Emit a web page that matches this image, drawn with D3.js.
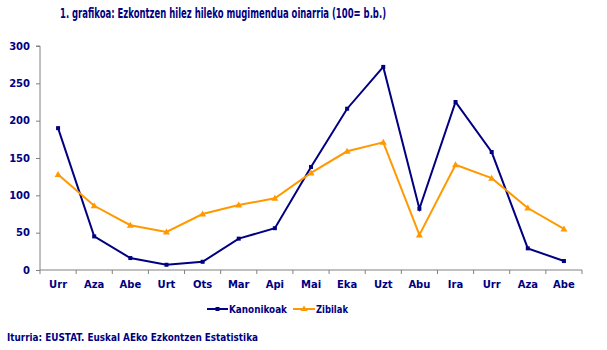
<!DOCTYPE html>
<html><head><meta charset="utf-8">
<script src="https://cdn.jsdelivr.net/npm/d3@7"></script>
<style>body{margin:0;background:#fff}svg{display:block}text{font-family:Tahoma,"DejaVu Sans",Verdana,sans-serif;font-weight:bold;fill:#000080}</style>
</head><body>
<svg id="c" width="607" height="350"></svg>
<script>
const categories = ["Urr","Aza","Abe","Urt","Ots","Mar","Api","Mai","Eka","Uzt","Abu","Ira","Urr","Aza","Abe"];
const kanonikoak = [190,45,16,7,11,42,56,138,216,272,82,225,158,29,12];
const zibilak = [128,86,60,51,75,87,96,130,159,171,47,141,123,83,55];
const yTicks = [0,50,100,150,200,250,300];
const seriesNames = ["Kanonikoak","Zibilak"];
const title = "1. grafikoa: Ezkontzen hilez hileko mugimendua oinarria (100= b.b.)";
const source = "Iturria: EUSTAT. Euskal AEko Ezkontzen Estatistika";

const svg = d3.select("#c");
const L = 40, R = 582, T = 46, B = 270;
const idx = categories.map((d,i)=>i);
const x = d3.scaleBand().domain(idx).range([L,R]);
const y = d3.scaleLinear().domain([0,300]).range([B,T]);
const cx = i => x(i) + x.bandwidth()/2;

svg.append("text").attr("x",60).attr("y",18).attr("font-size",13.5)
  .attr("textLength",326).attr("lengthAdjust","spacingAndGlyphs").text(title);

// y axis
const ya = svg.append("g").attr("transform",`translate(${L},0)`)
  .call(d3.axisLeft(y).tickValues(yTicks).tickSize(4).tickPadding(6));
ya.select(".domain").attr("stroke","#808080").attr("d",`M-4,${T}H0V${B}`);
ya.selectAll(".tick line").attr("stroke","#808080");
ya.selectAll("text").attr("font-size",10).attr("font-family",null).style("fill","#000080");

// x axis
const xa = svg.append("g").attr("transform",`translate(0,${B})`)
  .call(d3.axisBottom(x).tickFormat(i=>categories[i]).tickSize(0).tickPadding(11));
xa.select(".domain").attr("stroke","#808080").attr("d",`M${L},0H${R}`);
xa.selectAll("text").attr("font-size",10).attr("font-family",null).style("fill","#000080");
xa.selectAll(".sep").data(d3.range(categories.length+1)).enter().append("line")
  .attr("x1",i=>L+i*x.step()).attr("x2",i=>L+i*x.step()).attr("y1",0).attr("y2",4).attr("stroke","#808080");

const line = d3.line().x((d,i)=>cx(i)).y(d=>y(d));
const colors = ["#000080","#FF9900"];
[kanonikoak,zibilak].forEach((s,k)=>{
  svg.append("path").datum(s).attr("d",line).attr("fill","none").attr("stroke",colors[k]).attr("stroke-width",2);
});
// markers
svg.selectAll(".mk").data(kanonikoak).enter().append("rect")
  .attr("x",(d,i)=>cx(i)-2).attr("y",d=>y(d)-2).attr("width",4).attr("height",4).attr("fill","#000080");
svg.selectAll(".mz").data(zibilak).enter().append("path")
  .attr("d",(d,i)=>`M${cx(i)},${y(d)-3.5}L${cx(i)+3.5},${y(d)+2.5}L${cx(i)-3.5},${y(d)+2.5}Z`).attr("fill","#FF9900");

// legend
const lg = svg.append("g");
[[207,228,229,58],[293,315,316,32]].forEach((p,k)=>{
  lg.append("line").attr("x1",p[0]).attr("x2",p[1]).attr("y1",309).attr("y2",309).attr("stroke",colors[k]).attr("stroke-width",2);
  const m=(p[0]+p[1])/2;
  if(k===0) lg.append("rect").attr("x",m-2).attr("y",307).attr("width",4).attr("height",4).attr("fill",colors[0]);
  else lg.append("path").attr("d",`M${m},305.5L${m+3.5},311L${m-3.5},311Z`).attr("fill",colors[1]);
  lg.append("text").attr("x",p[2]).attr("y",313).attr("font-size",10)
    .attr("textLength",p[3]).attr("lengthAdjust","spacingAndGlyphs").text(seriesNames[k]);
});

svg.append("text").attr("x",7).attr("y",341).attr("font-size",10)
  .attr("textLength",251).attr("lengthAdjust","spacingAndGlyphs").text(source);
</script>
</body></html>
